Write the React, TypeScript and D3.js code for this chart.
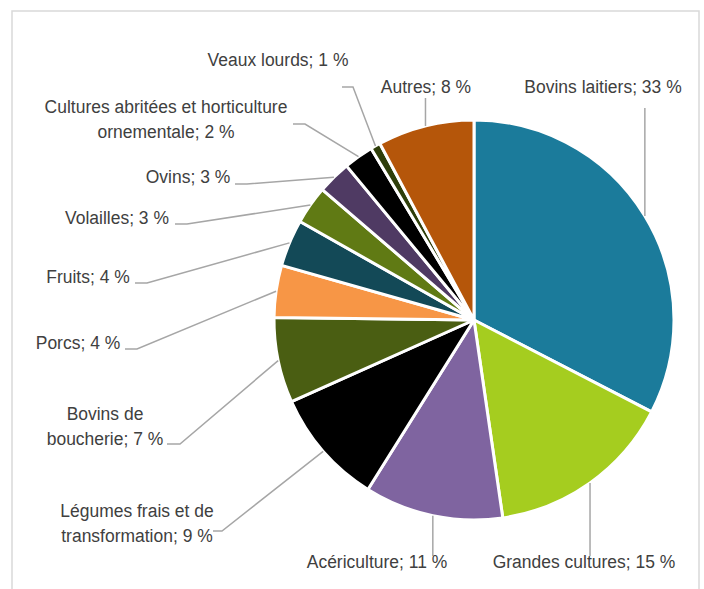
import React from "react";
import * as d3 from "d3";

const categories = [
  "Bovins laitiers",
  "Grandes cultures",
  "Acériculture",
  "Légumes frais et de transformation",
  "Bovins de boucherie",
  "Porcs",
  "Fruits",
  "Volailles",
  "Ovins",
  "Cultures abritées et horticulture ornementale",
  "Veaux lourds",
  "Autres",
];
const values = [32.6, 15.1, 11.2, 9.4, 6.9, 4.2, 3.8, 3.1, 2.7, 2.4, 0.8, 7.8];
const colors = [
  "#1b7b9b",
  "#a5cd1f",
  "#7f64a0",
  "#000000",
  "#4a5e12",
  "#f79646",
  "#134957",
  "#607a14",
  "#4f3a63",
  "#000000",
  "#2e3e0a",
  "#b5560a",
];
// label text lines (percent appended to last line)
const labelLines = [
  ["Bovins laitiers"],
  ["Grandes cultures"],
  ["Acériculture"],
  ["Légumes frais et de", "transformation"],
  ["Bovins de", "boucherie"],
  ["Porcs"],
  ["Fruits"],
  ["Volailles"],
  ["Ovins"],
  ["Cultures abritées et horticulture", "ornementale"],
  ["Veaux lourds"],
  ["Autres"],
];

// layout: label center x, first baseline y, leader: start point and elbow x (null = straight vertical)
type Lay = { x: number; y: number; lx: number; ly: number; ex: number | null };
const labelLayout: Lay[] = [
  { x: 603, y: 93, lx: 645, ly: 108, ex: null },
  { x: 584, y: 568, lx: 590, ly: 556, ex: null },
  { x: 377, y: 568, lx: 433, ly: 556, ex: null },
  { x: 137, y: 517, lx: 213, ly: 531, ex: 222 },
  { x: 105, y: 420, lx: 167, ly: 444, ex: 180 },
  { x: 78, y: 349, lx: 125, ly: 349, ex: 137 },
  { x: 88, y: 283, lx: 135, ly: 283, ex: 147 },
  { x: 117, y: 224, lx: 175, ly: 224, ex: 187 },
  { x: 188, y: 183, lx: 235, ly: 184, ex: 247 },
  { x: 166, y: 113, lx: 293, ly: 124, ex: 305 },
  { x: 278, y: 66, lx: 342, ly: 87, ex: 353 },
  { x: 426, y: 93, lx: 426, ly: 98, ex: null },
];

export default function App() {
  const W = 704, H = 589;
  const cx = 474, cy = 320, r = 200;
  const pie = d3.pie<number>().sort(null).value((d) => d);
  const arcs = pie(values);
  const arc = d3.arc<d3.PieArcDatum<number>>().innerRadius(0).outerRadius(r);
  const font = "'Liberation Sans', Arial, sans-serif";
  const lineH = 25;
  const sx = 0.92;

  return (
    <svg width={W} height={H} style={{ position: "absolute", left: 0, top: 0 }}>
      <rect x={0} y={0} width={W} height={H} fill="#fff" />
      <rect x={12} y={11} width={687} height={600} fill="none" stroke="#d9d9d9" strokeWidth={1.5} />
      <g transform={`translate(${cx},${cy})`}>
        {arcs.map((a, i) => (
          <path key={i} d={arc(a) || ""} fill={colors[i]} stroke="#fff" strokeWidth={3} strokeLinejoin="round" />
        ))}
      </g>
      {arcs.map((a, i) => {
        const mid = (a.startAngle + a.endAngle) / 2;
        const px = cx + r * Math.sin(mid);
        const py = cy - r * Math.cos(mid);
        const L = labelLayout[i];
        let pts: [number, number][];
        if (L.ex === null) {
          pts = [[px, L.ly], [px, py]];
        } else {
          pts = [[L.lx, L.ly], [L.ex, L.ly], [px, py]];
        }
        return (
          <path
            key={"l" + i}
            d={d3.line()(pts) || ""}
            fill="none"
            stroke="#a6a6a6"
            strokeWidth={1.5}
          />
        );
      })}
      {categories.map((c, i) => {
        const L = labelLayout[i];
        const lines = labelLines[i].slice();
        lines[lines.length - 1] = `${lines[lines.length - 1]}; ${Math.round(values[i])} %`;
        return (
          <text
            key={"t" + i}
            transform={`translate(${L.x},${L.y}) scale(${sx},1)`}
            textAnchor="middle"
            fontFamily={font}
            fontSize={19}
            fill="#404040"
          >
            {lines.map((ln, j) => (
              <tspan key={j} x={0} dy={j === 0 ? 0 : lineH}>
                {ln}
              </tspan>
            ))}
          </text>
        );
      })}
    </svg>
  );
}
